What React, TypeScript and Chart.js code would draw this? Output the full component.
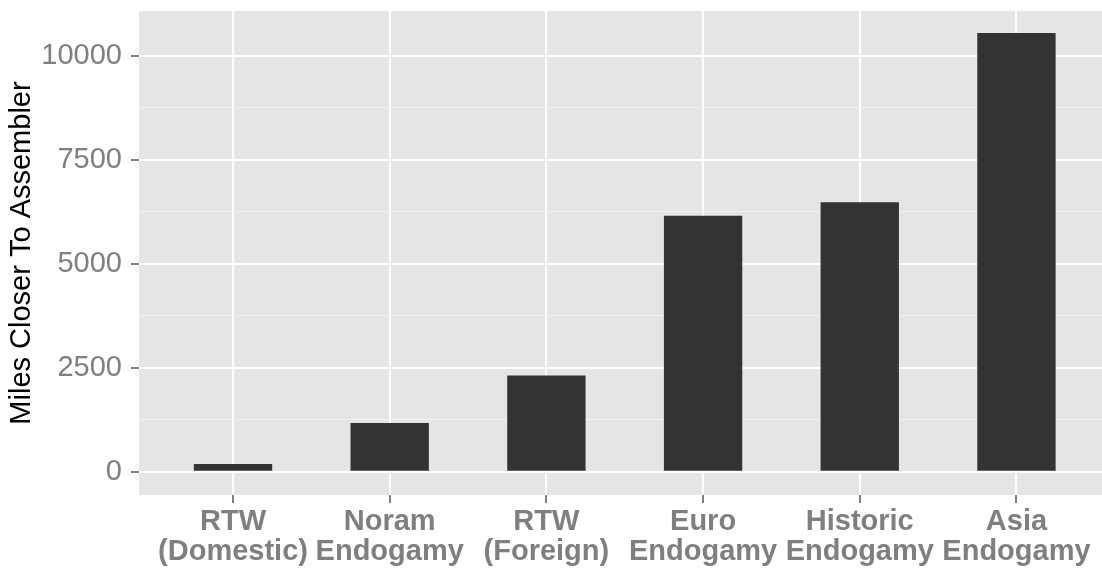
import React, { useEffect, useRef } from "react";
import { Chart, registerables } from "chart.js";

Chart.register(...registerables);

const categories = [
  "RTW\n(Domestic)",
  "Noram\nEndogamy",
  "RTW\n(Foreign)",
  "Euro\nEndogamy",
  "Historic\nEndogamy",
  "Asia\nEndogamy",
];
const milesCloser = [185, 1170, 2310, 6150, 6480, 10545];
const yTickValues = [0, 1250, 2500, 3750, 5000, 6250, 7500, 8750, 10000];
const yLabelValues = [0, 2500, 5000, 7500, 10000];
const yTitle = "Miles Closer To Assembler";

const FONT = "'Liberation Sans', Arial, Helvetica, sans-serif";

const panelBg = {
  id: "panelBg",
  beforeDraw(chart: any) {
    const { ctx, chartArea } = chart;
    ctx.save();
    ctx.fillStyle = "#E5E5E5";
    ctx.fillRect(
      chartArea.left,
      chartArea.top,
      chartArea.right - chartArea.left,
      chartArea.bottom - chartArea.top
    );
    ctx.restore();
  },
};

export default function App() {
  const ref = useRef<HTMLCanvasElement | null>(null);

  useEffect(() => {
    if (!ref.current) return;
    const chart = new Chart(ref.current, {
      type: "bar",
      data: {
        datasets: [
          {
            data: milesCloser.map((v, i) => ({ x: i, y: v })),
            backgroundColor: "#333333",
            borderWidth: 0,
            barPercentage: 0.5,
            categoryPercentage: 1,
          },
        ],
      },
      options: {
        animation: false,
        responsive: false,
        devicePixelRatio: 1,
        layout: { padding: { top: 11, left: 0, right: 0, bottom: 0 } },
        plugins: {
          legend: { display: false },
          tooltip: { enabled: false },
        },
        scales: {
          x: {
            type: "linear",
            min: -0.6,
            max: 5.546,
            offset: false,
            afterBuildTicks: (scale: any) => {
              scale.ticks = categories.map((_, i) => ({ value: i }));
            },
            afterFit: (scale: any) => {
              scale.height = 77;
              scale.paddingLeft = 0;
              scale.paddingRight = 0;
            },
            border: { display: false },
            grid: {
              offset: false,
              color: "#FFFFFF",
              lineWidth: 2,
              tickColor: "#7F7F7F",
              tickWidth: 2,
              tickLength: 8,
            },
            ticks: {
              autoSkip: false,
              maxRotation: 0,
              minRotation: 0,
              padding: 4,
              color: "#7F7F7F",
              font: { family: FONT, size: 29, weight: "bold", lineHeight: 1.04 },
              callback: (value: any) => {
                const c = categories[Math.round(Number(value))];
                return c ? c.split("\n") : "";
              },
            },
          },
          y: {
            type: "linear",
            min: -560,
            max: 11075,
            afterBuildTicks: (scale: any) => {
              scale.ticks = yTickValues.map((v) => ({ value: v }));
            },
            afterFit: (scale: any) => {
              scale.width = 139;
              scale.paddingTop = 0;
              scale.paddingBottom = 0;
            },
            border: { display: false },
            grid: {
              color: (ctx: any) =>
                yLabelValues.includes(ctx.tick?.value) ? "#FFFFFF" : "#F2F2F2",
              lineWidth: (ctx: any) =>
                yLabelValues.includes(ctx.tick?.value) ? 2 : 1,
              tickColor: (ctx: any) =>
                yLabelValues.includes(ctx.tick?.value) ? "#7F7F7F" : "rgba(0,0,0,0)",
              tickWidth: 2,
              tickLength: 8,
            },
            ticks: {
              autoSkip: false,
              padding: 9,
              color: "#7F7F7F",
              font: { family: FONT, size: 29 },
              callback: (value: any) =>
                yLabelValues.includes(Number(value)) ? String(value) : "",
            },
            title: {
              display: true,
              text: yTitle,
              color: "#000000",
              font: { family: FONT, size: 29 },
              padding: { top: 5, bottom: 0 },
            },
          },
        },
      },
      plugins: [panelBg],
    });
    return () => chart.destroy();
  }, []);

  return (
    <div
      style={{
        position: "absolute",
        left: 0,
        top: 0,
        width: 1102,
        height: 572,
        background: "#FFFFFF",
      }}
    >
      <canvas ref={ref} width={1102} height={572} />
    </div>
  );
}
